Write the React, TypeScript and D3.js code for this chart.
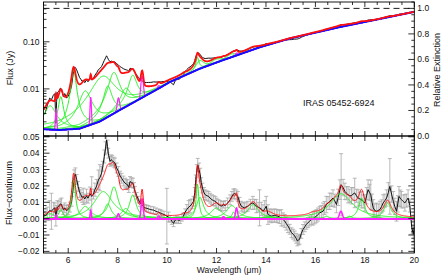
import React from 'react';
import * as d3 from 'd3';

const W = 441;
const H = 275;

// continuum (Jy)
const contWave = [5.0, 5.65, 6.46, 7.27, 8.08, 8.89, 9.7, 10.1, 11.32, 12.13, 12.95, 13.76, 14.97, 15.38, 17.0, 18.62, 20.0];
const contFlux = [0.00139, 0.00134, 0.00143, 0.00202, 0.00354, 0.0061, 0.0105, 0.0139, 0.0268, 0.0385, 0.0545, 0.0769, 0.118, 0.132, 0.206, 0.307, 0.433];

// dust features (green): centre, fwhm, peak (Jy)
const pahWave = [5.27, 5.7, 6.22, 6.69, 7.42, 7.6, 7.85, 8.33, 8.61, 10.68, 11.23, 11.33, 11.99, 12.62, 12.69, 13.48, 14.04, 14.19, 15.9, 16.45, 17.04, 17.375, 17.87, 18.92];
const pahFwhm = [0.5, 0.2, 0.19, 0.5, 0.94, 0.33, 0.42, 0.42, 0.34, 0.21, 0.135, 0.36, 0.54, 0.53, 0.16, 0.54, 0.23, 0.36, 0.32, 0.23, 1.11, 0.21, 0.29, 0.36];
const pahPeak = [0.003, 0.0055, 0.0235, 0.0075, 0.0165, 0.009, 0.0195, 0.0062, 0.0145, 0.001, 0.021, 0.013, 0.0065, 0.008, 0.004, 0.0085, 0.0012, 0.0012, 0.001, 0.0015, 0.0152, 0.0015, 0.0125, 0.0095];

// gas lines (magenta)
const lineWave = [5.51, 6.91, 8.03, 8.99, 9.66, 12.28, 12.81, 17.03];
const lineFwhm = [0.053, 0.053, 0.1, 0.1, 0.1, 0.1, 0.1, 0.14];
const linePeak = [0.0025, 0.005, 0.003, 0.012, 0.0015, 0.0012, 0.0065, 0.0045];

// observed spectrum minus continuum, with uncertainties
const specWave = [5.05, 5.15, 5.25, 5.32, 5.4, 5.46, 5.5, 5.53, 5.56, 5.62, 5.68, 5.73, 5.8, 5.86, 5.93, 6.0, 6.07, 6.14, 6.2, 6.24, 6.29, 6.34, 6.4, 6.46, 6.51, 6.56, 6.61, 6.67, 6.74, 6.8, 6.88, 6.95, 7.02, 7.08, 7.15, 7.22, 7.28, 7.35, 7.4, 7.46, 7.51, 7.55, 7.59, 7.62, 7.69, 7.74, 7.78, 7.84, 7.89, 7.96, 8.03, 8.1, 8.16, 8.23, 8.3, 8.36, 8.4, 8.45, 8.5, 8.56, 8.62, 8.66, 8.7, 8.77, 8.84, 8.91, 8.97, 9.04, 9.1, 9.17, 9.24, 9.34, 9.45, 9.55, 9.65, 9.72, 9.78, 9.88, 9.99, 10.06, 10.12, 10.19, 10.26, 10.32, 10.39, 10.46, 10.53, 10.6, 10.66, 10.73, 10.8, 10.87, 10.93, 11.0, 11.07, 11.12, 11.16, 11.2, 11.24, 11.29, 11.34, 11.38, 11.43, 11.49, 11.54, 11.61, 11.68, 11.74, 11.81, 11.88, 11.95, 12.01, 12.08, 12.15, 12.22, 12.28, 12.35, 12.45, 12.55, 12.62, 12.68, 12.73, 12.8, 12.86, 12.93, 13.0, 13.07, 13.13, 13.2, 13.27, 13.37, 13.47, 13.54, 13.61, 13.68, 13.74, 13.81, 13.88, 13.95, 14.01, 14.08, 14.15, 14.21, 14.28, 14.35, 14.42, 14.48, 14.55, 14.62, 14.69, 14.76, 14.82, 14.89, 14.96, 15.03, 15.1, 15.16, 15.22, 15.27, 15.32, 15.36, 15.43, 15.5, 15.57, 15.63, 15.7, 15.77, 15.84, 15.9, 15.97, 16.04, 16.1, 16.17, 16.24, 16.31, 16.37, 16.44, 16.51, 16.58, 16.64, 16.71, 16.78, 16.85, 16.92, 16.99, 17.04, 17.12, 17.19, 17.26, 17.32, 17.39, 17.46, 17.52, 17.59, 17.66, 17.73, 17.8, 17.86, 17.93, 18.0, 18.07, 18.13, 18.19, 18.24, 18.29, 18.34, 18.4, 18.47, 18.54, 18.61, 18.68, 18.74, 18.81, 18.88, 18.95, 19.01, 19.08, 19.15, 19.21, 19.28, 19.33, 19.38, 19.43, 19.48, 19.55, 19.62, 19.68, 19.75, 19.82, 19.89, 19.96, 20.0];
const specResid = [0.0015, 0.003, 0.005, 0.0045, 0.006, 0.0066, 0.0005, 0.004, 0.007, 0.0076, 0.009, 0.0086, 0.0055, 0.0066, 0.005, 0.0056, 0.007, 0.0106, 0.019, 0.0258, 0.027, 0.024, 0.0197, 0.016, 0.0146, 0.013, 0.0136, 0.012, 0.014, 0.0125, 0.0153, 0.0136, 0.015, 0.0177, 0.02, 0.0237, 0.025, 0.0278, 0.032, 0.038, 0.043, 0.048, 0.044, 0.04, 0.035, 0.036, 0.0355, 0.0345, 0.034, 0.031, 0.0288, 0.026, 0.0247, 0.023, 0.0217, 0.021, 0.0207, 0.019, 0.0227, 0.022, 0.0217, 0.019, 0.0167, 0.014, 0.0116, 0.0095, 0.0086, 0.0075, 0.0066, 0.0063, 0.006, 0.0055, 0.0052, 0.0045, 0.0039, 0.0035, 0.0031, 0.0025, 0.0015, 0.001, -0.0001, -0.0015, -0.0029, -0.001, -0.0005, -0.001, -0.0009, 0.0005, 0.0015, 0.004, 0.0056, 0.007, 0.0076, 0.009, 0.0106, 0.016, 0.0237, 0.029, 0.0328, 0.03, 0.0268, 0.022, 0.0187, 0.016, 0.0146, 0.014, 0.0136, 0.0125, 0.0116, 0.011, 0.0106, 0.0095, 0.0086, 0.008, 0.0076, 0.0085, 0.008, 0.0096, 0.0115, 0.0136, 0.015, 0.0153, 0.0145, 0.0136, 0.01, 0.0076, 0.007, 0.0066, 0.0072, 0.0076, 0.0088, 0.0096, 0.0088, 0.0076, 0.007, 0.0066, 0.006, 0.0045, 0.006, 0.0076, 0.0025, 0.002, 0.0015, 0.0018, 0.0019, 0.0017, 0.0015, 0.001, 0.0005, -0.0005, -0.0015, -0.003, -0.0045, -0.0065, -0.0086, -0.0095, -0.0106, -0.012, -0.0136, -0.013, -0.0126, -0.009, -0.0066, -0.005, -0.0035, -0.0025, -0.0015, -0.0005, 0, 0.0008, 0.0015, 0.0025, 0.0035, 0.004, 0.0045, 0.0065, 0.0086, 0.0095, 0.0106, 0.0115, 0.0126, 0.011, 0.0086, 0.013, 0.0177, 0.0207, 0.019, 0.0167, 0.0155, 0.0146, 0.014, 0.014, 0.015, 0.0157, 0.014, 0.0126, 0.012, 0.0116, 0.0105, 0.0096, 0.014, 0.0177, 0.016, 0.0146, 0.01, 0.0066, 0.005, 0.0045, 0.005, 0.0056, 0.0075, 0.0096, 0.011, 0.0126, 0.016, 0.0197, 0.015, 0.0106, 0.0075, 0.0045, 0.009, 0.0136, 0.0125, 0.0116, 0.0105, 0.0096, 0.011, 0.0126, 0.008, -0.0045, -0.0096, -0.005];
const specErr = [0.003, 0.004, 0.006, 0.011, 0.004, 0.003, 0.005, 0.004, 0.004, 0.003, 0.003, 0.004, 0.003, 0.003, 0.003, 0.003, 0.003, 0.003, 0.003, 0.004, 0.004, 0.003, 0.003, 0.003, 0.003, 0.003, 0.005, 0.003, 0.004, 0.003, 0.004, 0.012, 0.003, 0.004, 0.004, 0.006, 0.008, 0.004, 0.003, 0.004, 0.004, 0.005, 0.004, 0.003, 0.003, 0.003, 0.003, 0.003, 0.003, 0.003, 0.003, 0.003, 0.003, 0.003, 0.003, 0.003, 0.003, 0.003, 0.003, 0.003, 0.003, 0.003, 0.003, 0.002, 0.002, 0.002, 0.002, 0.002, 0.002, 0.002, 0.002, 0.002, 0.002, 0.002, 0.002, 0.002, 0.002, 0.002, 0.017, 0.003, 0.002, 0.002, 0.002, 0.002, 0.002, 0.002, 0.002, 0.002, 0.002, 0.002, 0.003, 0.004, 0.004, 0.003, 0.003, 0.003, 0.003, 0.004, 0.004, 0.004, 0.004, 0.003, 0.003, 0.003, 0.003, 0.003, 0.003, 0.003, 0.003, 0.003, 0.003, 0.003, 0.003, 0.003, 0.003, 0.002, 0.003, 0.003, 0.003, 0.003, 0.003, 0.003, 0.003, 0.003, 0.003, 0.003, 0.003, 0.003, 0.003, 0.003, 0.003, 0.004, 0.003, 0.004, 0.003, 0.011, 0.004, 0.004, 0.005, 0.006, 0.006, 0.004, 0.004, 0.004, 0.004, 0.004, 0.004, 0.004, 0.005, 0.004, 0.004, 0.004, 0.004, 0.003, 0.003, 0.003, 0.003, 0.003, 0.003, 0.003, 0.003, 0.003, 0.003, 0.003, 0.003, 0.003, 0.003, 0.003, 0.004, 0.004, 0.004, 0.004, 0.004, 0.004, 0.005, 0.004, 0.005, 0.004, 0.005, 0.004, 0.005, 0.004, 0.005, 0.005, 0.006, 0.019, 0.005, 0.005, 0.004, 0.005, 0.004, 0.005, 0.004, 0.009, 0.004, 0.005, 0.004, 0.005, 0.004, 0.005, 0.005, 0.006, 0.005, 0.009, 0.005, 0.005, 0.004, 0.005, 0.004, 0.005, 0.004, 0.005, 0.004, 0.005, 0.006, 0.017, 0.005, 0.006, 0.005, 0.006, 0.005, 0.006, 0.005, 0.005, 0.004, 0.005, 0.004, 0.005, 0.004, 0.005, 0.005, 0.004];

const xTickMajor = [6, 8, 10, 12, 14, 16, 18, 20];
const fluxTickLabels = [0.01, 0.1];
const extTicks = [0, 0.2, 0.4, 0.6, 0.8, 1.0];
const residTicks = [-0.02, -0.01, 0, 0.01, 0.02, 0.03, 0.04, 0.05];

const FONT = '"Liberation Sans", Arial, Helvetica, sans-serif';

const L = 43.5, R = 414.3, T1 = 2, B1 = 136, B2 = 253;

const x = d3.scaleLinear().domain([5, 20]).range([L, R]);
const yTop = d3.scaleLog().domain([0.001, 0.7]).range([B1, T1]);
const yExt = d3.scaleLinear().domain([0, 1.05]).range([B1, T1]);
const yBot = d3.scaleLinear().domain([-0.021, 0.0505]).range([B2, B1]);

const contLog = d3.scaleLinear().domain(contWave).range(contFlux.map(Math.log10));
const cont = (l: number) => Math.pow(10, contLog(l));

const drude = (l: number, c: number, w: number, b: number) => {
  const g = w / c;
  const d = l / c - c / l;
  return (b * g * g) / (d * d + g * g);
};
const gauss = (l: number, c: number, w: number, b: number) => {
  const s = w / 2.3548;
  return b * Math.exp(-((l - c) * (l - c)) / (2 * s * s));
};

const grid = d3.range(5, 20.0001, 0.01);

const pahCurves = pahWave.map((c, i) => grid.map(l => [l, drude(l, c, pahFwhm[i], pahPeak[i])] as [number, number]));
const lineCurves = lineWave.map((c, i) => grid.map(l => [l, gauss(l, c, lineFwhm[i], linePeak[i])] as [number, number]));
const total = grid.map((l, k) => {
  let s = 0;
  pahCurves.forEach(p => (s += p[k][1]));
  lineCurves.forEach(p => (s += p[k][1]));
  return [l, s] as [number, number];
});
const spec = specWave.map((l, i) => [l, specResid[i]] as [number, number]);

const lineT = d3.line<[number, number]>().x(d => x(d[0])).y(d => yTop(cont(d[0]) + d[1]));
const lineB = d3.line<[number, number]>().x(d => x(d[0])).y(d => yBot(d[1]));

const xMinor = d3.range(5, 20.001, 0.5);
const logMinor: number[] = [];
[0.001, 0.01, 0.1].forEach(dec => {
  for (let k = 1; k <= 9; k++) {
    const v = dec * k;
    if (v >= 0.001 && v <= 0.7) logMinor.push(v);
  }
});
const extMinor = d3.range(0, 1.0501, 0.05);
const residMinor = d3.range(-0.02, 0.0501, 0.002);

const GREEN = '#22ee22';
const MAG = '#ff22ff';

export default function App() {
  const tick = (x1: number, y1: number, x2: number, y2: number, key: string) => (
    <line key={key} x1={x1} y1={y1} x2={x2} y2={y2} stroke="#000" strokeWidth={0.8} />
  );
  const ticks: React.ReactNode[] = [];
  // wavelength ticks on every horizontal edge
  xMinor.forEach((v, i) => {
    const major = xTickMajor.includes(Math.round(v * 10) / 10);
    const len = major ? 5 : 3;
    const px = x(v);
    ticks.push(tick(px, T1, px, T1 + len, `t1-${i}`));
    ticks.push(tick(px, B1, px, B1 - len, `b1-${i}`));
    ticks.push(tick(px, B1, px, B1 + len, `t2-${i}`));
    ticks.push(tick(px, B2, px, B2 - len, `b2-${i}`));
  });
  logMinor.forEach((v, i) => {
    const major = [0.001, 0.01, 0.1].some(m => Math.abs(m - v) < 1e-9);
    const len = major ? 6 : 3;
    ticks.push(tick(L, yTop(v), L + len, yTop(v), `lt-${i}`));
  });
  extMinor.forEach((v, i) => {
    const major = Math.abs(v * 5 - Math.round(v * 5)) < 1e-6;
    const len = major ? 6 : 3;
    ticks.push(tick(R, yExt(v), R - len, yExt(v), `rt-${i}`));
  });
  residMinor.forEach((v, i) => {
    const major = Math.abs(v * 100 - Math.round(v * 100)) < 1e-6;
    const len = major ? 6 : 3;
    ticks.push(tick(L, yBot(v), L + len, yBot(v), `lb-${i}`));
    ticks.push(tick(R, yBot(v), R - len, yBot(v), `rb-${i}`));
  });

  const fmt2 = d3.format('.2f');
  const fmt1 = d3.format('.1f');

  return (
    <svg width={W} height={H} style={{ position: 'absolute', left: 0, top: 0, background: '#fff' }} fontFamily={FONT}>
      <defs>
        <clipPath id="cTop"><rect x={L} y={T1} width={R - L} height={B1 - T1} /></clipPath>
        <clipPath id="cBot"><rect x={L} y={B1} width={R - L} height={B2 - B1} /></clipPath>
      </defs>

      {/* top panel */}
      <g clipPath="url(#cTop)" fill="none">
        <line x1={L} x2={R} y1={yExt(1)} y2={yExt(1)} stroke="#000" strokeWidth={0.9} strokeDasharray="6,4" />
        <path d={lineT(spec) || ''} stroke="#111" strokeWidth={1} />
        {pahCurves.map((c, i) => <path key={`gp${i}`} d={lineT(c) || ''} stroke={GREEN} strokeWidth={1} />)}
        {lineCurves.map((c, i) => <path key={`mp${i}`} d={lineT(c) || ''} stroke={MAG} strokeWidth={1.2} />)}
        <path d={lineT(grid.map(l => [l, 0] as [number, number])) || ''} stroke="#1010ff" strokeWidth={2} />
        <path d={lineT(total) || ''} stroke="#ff1010" strokeWidth={1.8} />
      </g>

      {/* bottom panel */}
      <g clipPath="url(#cBot)" fill="none">
        {spec.map((d, i) => {
          const px = x(d[0]);
          const y0 = yBot(d[1] - specErr[i]);
          const y1 = yBot(d[1] + specErr[i]);
          return (
            <g key={`e${i}`} stroke="#a8a8a8" strokeWidth={0.8}>
              <line x1={px} x2={px} y1={y0} y2={y1} />
              <line x1={px - 2} x2={px + 2} y1={y0} y2={y0} />
              <line x1={px - 2} x2={px + 2} y1={y1} y2={y1} />
            </g>
          );
        })}
        <path d={lineB(spec) || ''} stroke="#111" strokeWidth={1} />
        {pahCurves.map((c, i) => <path key={`gb${i}`} d={lineB(c) || ''} stroke={GREEN} strokeWidth={1} />)}
        {lineCurves.map((c, i) => <path key={`mb${i}`} d={lineB(c) || ''} stroke={MAG} strokeWidth={1.5} />)}
        <path d={lineB(total) || ''} stroke="#ff1010" strokeWidth={1} />
      </g>

      {/* frames */}
      <rect x={L} y={T1} width={R - L} height={B1 - T1} fill="none" stroke="#000" strokeWidth={0.9} />
      <rect x={L} y={B1} width={R - L} height={B2 - B1} fill="none" stroke="#000" strokeWidth={0.9} />
      {ticks}

      {/* tick labels */}
      <g fontSize={8.5} fill="#111">
        {fluxTickLabels.map(v => (
          <text key={`fl${v}`} x={L - 4} y={yTop(v)} dy="0.35em" textAnchor="end">{fmt2(v)}</text>
        ))}
        {extTicks.map(v => (
          <text key={`el${v}`} x={R + 3} y={yExt(v)} dy="0.35em" textAnchor="start">{fmt1(v)}</text>
        ))}
        {residTicks.map(v => (
          <text key={`rl${v}`} x={L - 4} y={yBot(v)} dy="0.35em" textAnchor="end">{fmt2(v).replace('-', '\u2212')}</text>
        ))}
        {xTickMajor.map(v => (
          <text key={`xl${v}`} x={x(v)} y={262.5} textAnchor="middle">{v}</text>
        ))}
      </g>

      {/* titles */}
      <g fontSize={9} fill="#111">
        <text transform="translate(12.5,68) rotate(-90)" textAnchor="middle">Flux (Jy)</text>
        <text transform="translate(11.5,193) rotate(-90)" textAnchor="middle">Flux{'\u2212'}continuum</text>
        <text transform="translate(439.5,70) rotate(-90)" textAnchor="middle">Relative Extinction</text>
        <text x={229} y={272.5} fontSize={8.5} textAnchor="middle">Wavelength ({'\u03bc'}m)</text>
        <text x={303} y={106}>IRAS 05452-6924</text>
      </g>
    </svg>
  );
}
